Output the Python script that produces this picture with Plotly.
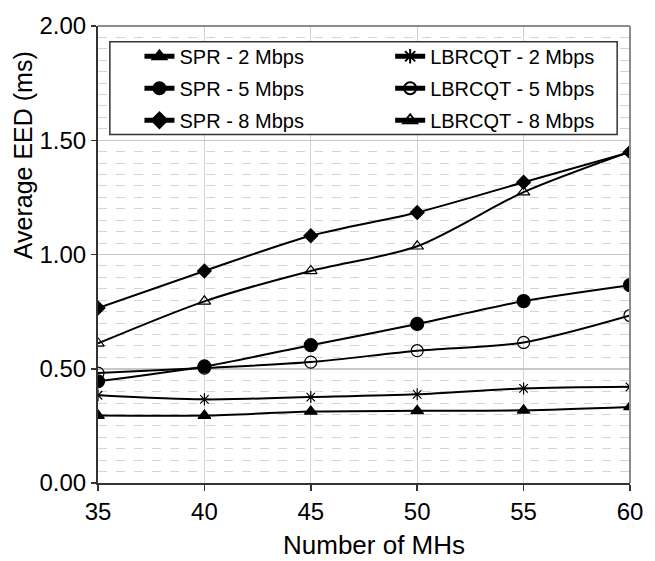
import plotly.graph_objects as go

x_vals = [35, 40, 45, 50, 55, 60]
spr_2 = [0.295, 0.295, 0.313, 0.316, 0.318, 0.333]
spr_5 = [0.445, 0.510, 0.603, 0.696, 0.796, 0.866]
spr_8 = [0.766, 0.928, 1.082, 1.184, 1.316, 1.448]
lb_2 = [0.384, 0.366, 0.376, 0.388, 0.414, 0.421]
lb_5 = [0.481, 0.503, 0.529, 0.579, 0.615, 0.733]
lb_8 = [0.611, 0.795, 0.928, 1.036, 1.273, 1.450]

series = [
    ("SPR - 2 Mbps", spr_2, "triangle-up", 11, "legend"),
    ("SPR - 5 Mbps", spr_5, "circle", 13, "legend"),
    ("SPR - 8 Mbps", spr_8, "diamond", 10.5, "legend"),
    ("LBRCQT - 2 Mbps", lb_2, "asterisk-open", 10, "legend2"),
    ("LBRCQT - 5 Mbps", lb_5, "circle-open", 12, "legend2"),
    ("LBRCQT - 8 Mbps", lb_8, "triangle-up-open", 11, "legend2"),
]

W, H = 655, 561
# plot area in window pixels: x 98..637, y 16..483
L, R, T, B = 98, W - 637, 16, H - 483
pw, ph = W - L - R, H - T - B

def px(xs):
    return (xs - L) / pw

def py(ys):
    return (H - B - ys) / ph

fig = go.Figure()
for i, (name, vals, sym, sz, lg) in enumerate(series):
    fig.add_trace(go.Scatter(
        x=x_vals, y=vals, name=name, mode="lines+markers",
        legend=lg, legendgroup="g%d" % i,
        line=dict(color="black", width=2, shape="spline", smoothing=0.8),
        marker=dict(symbol=sym, size=sz, color="black",
                    line=dict(color="black", width=1.2)),
        hoverinfo="skip",
    ))

font_family = "Liberation Sans, Arial, sans-serif"

leg_common = dict(
    yanchor="top", xanchor="left",
    font=dict(size=20, family=font_family, color="black"),
    bgcolor="rgba(0,0,0,0)", borderwidth=0,
    itemsizing="constant", tracegroupgap=3, orientation="v",
)

fig.update_layout(
    width=W, height=H,
    margin=dict(l=L, r=R, t=T, b=B),
    paper_bgcolor="white", plot_bgcolor="white",
    font=dict(family=font_family, color="black", size=24),
    showlegend=True,
    legend=dict(x=px(140), y=py(27), **leg_common),
    legend2=dict(x=px(394), y=py(27), **leg_common),
    xaxis=dict(
        range=[35, 60], tickvals=x_vals, ticktext=[str(v) for v in x_vals],
        showgrid=True, gridcolor="#d0d0d0", gridwidth=1,
        showline=True, linecolor="#333333", linewidth=2,
        ticks="outside", ticklen=6, tickcolor="#333333", tickwidth=1.5,
        tickfont=dict(size=24), zeroline=False,
    ),
    yaxis=dict(
        range=[0, 2.0], tickvals=[0, 0.5, 1.0, 1.5, 2.0],
        ticktext=["0.00", "0.50", "1.00", "1.50", "2.00"],
        showgrid=True, gridcolor="#c8c8c8", gridwidth=1.5,
        minor=dict(dtick=0.05, showgrid=True, gridcolor="#d4d4d4",
                   griddash="dash", gridwidth=1),
        showline=True, linecolor="#333333", linewidth=2,
        ticks="outside", ticklen=5, tickcolor="#333333", tickwidth=1.5,
        tickfont=dict(size=24), zeroline=False,
    ),
    shapes=[
        dict(type="line", xref="paper", yref="paper", x0=0, x1=1, y0=1, y1=1,
             line=dict(color="#8c8c8c", width=2), layer="above"),
        dict(type="line", xref="paper", yref="paper", x0=1, x1=1, y0=0, y1=1,
             line=dict(color="#8c8c8c", width=2), layer="above"),
        dict(type="rect", xref="paper", yref="paper",
             x0=px(110), x1=px(624), y0=py(127), y1=py(32),
             line=dict(color="#333333", width=1.5), fillcolor="white",
             layer="above"),
    ],
    annotations=[
        dict(text="Number of MHs", xref="paper", yref="paper",
             x=px(378), y=py(546), xanchor="center", yanchor="middle",
             showarrow=False, font=dict(size=26)),
        dict(text="Average EED (ms)", xref="paper", yref="paper",
             x=px(22), y=py(148), xanchor="center", yanchor="middle",
             textangle=-90, showarrow=False, font=dict(size=25)),
    ],
)

fig.write_html(
    "out.html",
    config={"displayModeBar": False, "staticPlot": True},
    post_script="document.body.style.margin='0px';document.body.style.overflow='hidden';",
)
